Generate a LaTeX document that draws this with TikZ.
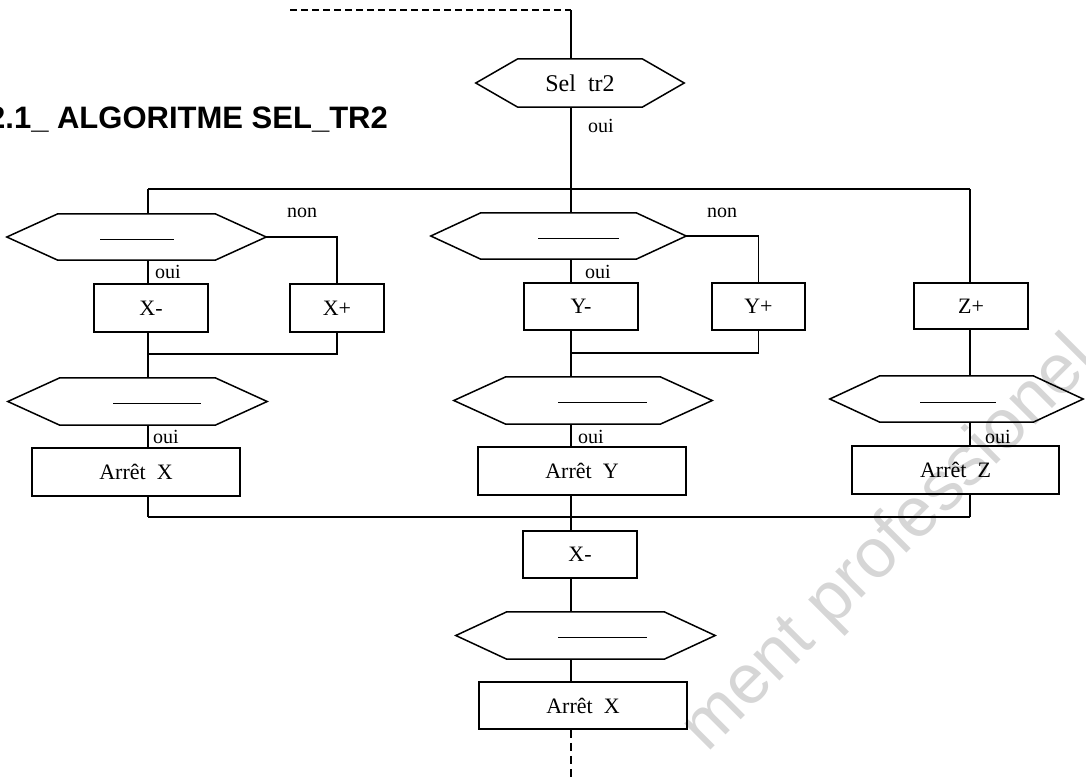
\documentclass[tikz,border=0pt]{standalone}
\usepackage{fontspec}
\setmainfont{Liberation Serif}
\newfontfamily\titlefont{Liberation Sans}
\newcommand\hexa[2]{\draw[flow] (#1.west) -- ([xshift=#2]#1.north west) -- ([xshift=-#2]#1.north east) -- (#1.east) -- ([xshift=-#2]#1.south east) -- ([xshift=#2]#1.south west) -- cycle;}
\begin{document}
\begin{tikzpicture}[x=1pt,y=-1pt,
  flow/.style={line width=1.5pt, line join=miter},
  box/.style={draw, line width=1.5pt, rectangle, inner sep=0pt, font=\fontsize{22}{26}\selectfont},
  hexnode/.style={rectangle, inner sep=0pt, font=\fontsize{24}{28}\selectfont},
  lbl/.style={anchor=west, inner sep=0pt, font=\fontsize{20}{24}\selectfont},
  dashln/.style={line width=1pt},
  dashflow/.style={line width=1.5pt, dash pattern=on 7pt off 4pt}]
\useasboundingbox (0,0) rectangle (1086,780);

% watermark (behind the diagram)
\node[rotate=45, inner sep=0pt, font=\titlefont\fontsize{70}{80}\selectfont, text=black!16] (wm) at (890,545) {ment professionel};

% title
\node[anchor=base west, inner sep=0pt, font=\titlefont\bfseries\fontsize{31}{36}\selectfont] (title) at (-12,128) {2.1\_ ALGORITME SEL\_TR2};

% column coordinates
\coordinate (dtl) at (290,10);
\coordinate (dtr) at (571,10);
\coordinate (c1) at (148,189);
\coordinate (c2) at (571,189);
\coordinate (c3) at (970,189);
\coordinate (m1) at (148,354);
\coordinate (m2) at (571,353);
\coordinate (b1) at (148,517);
\coordinate (b2) at (571,517);
\coordinate (b3) at (970,517);
\coordinate (bend) at (571,780);

% hexagon nodes
\node[hexnode, minimum width=208, minimum height=48] (sel) at (580,83) {Sel~~tr2};
\node[hexnode, minimum width=259, minimum height=46] (hL1) at (136.5,237) {};
\node[hexnode, minimum width=255, minimum height=46] (hM1) at (558.5,236) {};
\node[hexnode, minimum width=259, minimum height=47] (hL2) at (137.5,401.5) {};
\node[hexnode, minimum width=258, minimum height=47] (hM2) at (583,400.5) {};
\node[hexnode, minimum width=253, minimum height=46] (hR2) at (956.5,399) {};
\node[hexnode, minimum width=259, minimum height=47] (hB) at (585.5,635.5) {};
\hexa{sel}{42}
\hexa{hL1}{51}
\hexa{hM1}{50}
\hexa{hL2}{52}
\hexa{hM2}{52}
\hexa{hR2}{50}
\hexa{hB}{51}

% placeholder lines in hexagons
\draw[dashln] (100,239) -- (174,239);
\draw[dashln] (538,238) -- (619,238);
\draw[dashln] (113,403) -- (201,403);
\draw[dashln] (558,402) -- (647,402);
\draw[dashln] (920,402) -- (996,402);
\draw[dashln] (558,637) -- (647,637);

% boxes
\node[box, minimum width=114, minimum height=48] (xm) at (151,308) {X-};
\node[box, minimum width=94, minimum height=48] (xp) at (337,308) {X+};
\node[box, minimum width=114, minimum height=47] (ym) at (581,306.5) {Y-};
\node[box, minimum width=93, minimum height=47] (yp) at (758.5,306.5) {Y+};
\node[box, minimum width=114, minimum height=46] (zp) at (971,306) {Z+};
\node[box, minimum width=208, minimum height=48] (ax) at (136,472) {Arrêt~~X};
\node[box, minimum width=208, minimum height=48] (ay) at (582,471) {Arrêt~~Y};
\node[box, minimum width=207, minimum height=48] (az) at (955.5,470) {Arrêt~~Z};
\node[box, minimum width=114, minimum height=47] (x2) at (580,554.5) {X-};
\node[box, minimum width=208, minimum height=47] (ax2) at (583,705.5) {Arrêt~~X};

% connectors
\draw[dashflow] (dtl) -- (dtr);
\draw[flow] (dtr) -- (sel.north -| dtr);
\draw[flow] (sel.south -| dtr) -- (c2);
\draw[flow] (c1) -- (c3);
% left column
\draw[flow] (c1) -- (hL1.north -| c1);
\draw[flow] (hL1.south -| c1) -- (xm.north -| c1);
\draw[flow] (hL1.east) -| (xp.north);
\draw[flow] (xm.south -| c1) -- (hL2.north -| c1);
\draw[flow] (xp.south) |- (m1);
\draw[flow] (hL2.south -| c1) -- (ax.north -| c1);
\draw[flow] (ax.south -| c1) -- (b1);
% middle column
\draw[flow] (c2) -- (hM1.north -| c2);
\draw[flow] (hM1.south -| c2) -- (ym.north -| c2);
\draw[flow] (hM1.east) -| (yp.north);
\draw[flow] (ym.south -| c2) -- (hM2.north -| c2);
\draw[flow] (yp.south) |- (m2);
\draw[flow] (hM2.south -| c2) -- (ay.north -| c2);
\draw[flow] (ay.south -| c2) -- (b2);
% right column
\draw[flow] (c3) -- (zp.north -| c3);
\draw[flow] (zp.south -| c3) -- (hR2.north -| c3);
\draw[flow] (hR2.south -| c3) -- (az.north -| c3);
\draw[flow] (az.south -| c3) -- (b3);
% bottom
\draw[flow] (b1) -- (b3);
\draw[flow] (b2) -- (x2.north -| b2);
\draw[flow] (x2.south -| b2) -- (hB.north -| b2);
\draw[flow] (hB.south -| b2) -- (ax2.north -| b2);
\draw[line width=1.5pt, dash pattern=on 8pt off 5pt] (ax2.south -| b2) -- (bend);

% labels
\node[lbl] (oui0) at (588,126) {oui};
\node[lbl] (oui1) at (155,272) {oui};
\node[lbl] (oui2) at (585,272) {oui};
\node[lbl] (oui3) at (153,437) {oui};
\node[lbl] (oui4) at (578,437) {oui};
\node[lbl] (oui5) at (985,437) {oui};
\node[lbl] (non1) at (287,213) {non};
\node[lbl] (non2) at (707,213) {non};
\end{tikzpicture}
\end{document}
